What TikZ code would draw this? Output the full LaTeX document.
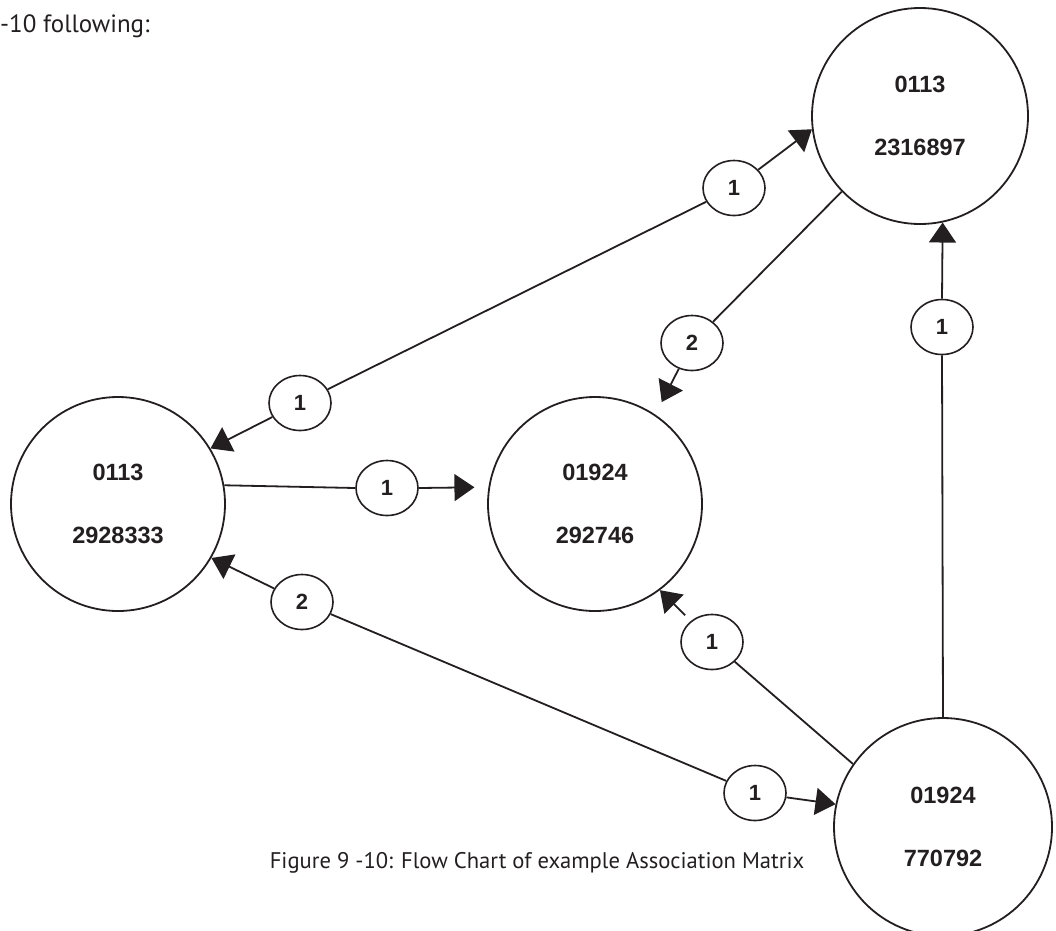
\documentclass[tikz,border=0pt]{standalone}
\usepackage{fontspec}
\setmainfont{Liberation Sans}
\newfontfamily\capfont{PT Sans}
\usetikzlibrary{arrows.meta,shapes.geometric}
\definecolor{vink}{HTML}{231F20}
\tikzset{
  state/.style={circle,draw=vink,line width=1.8pt,minimum size=#1,inner sep=0pt,align=center,
    font=\fontsize{23.5}{28}\selectfont\bfseries,text=vink},
  state/.default=214pt,
  wt/.style={ellipse,draw=vink,line width=1.6pt,minimum width=62pt,minimum height=55pt,inner sep=0pt,
    font=\fontsize{22}{26}\selectfont\bfseries,text=vink},
  arr/.style={-{Triangle[length=20pt,width=27pt]},line width=1.8pt,draw=vink},
  ln/.style={line width=1.8pt,draw=vink},
  captxt/.style={font=\capfont\fontsize{22.6}{27}\selectfont,text=vink,inner sep=0pt},
}
\begin{document}
\begin{tikzpicture}[x=1pt,y=-1pt]
\useasboundingbox (0,0) rectangle (1056,930);
% states
\node[state=216pt] (A) at (920,116) {0113\\[35pt]2316897};
\node[state] (B) at (118,504) {0113\\[35pt]2928333};
\node[state] (C) at (595,504) {01924\\[35pt]292746};
\node[state=218pt] (D) at (943,827) {01924\\[35pt]770792};
% weights
\node[wt] (L1) at (300,403) {1};
\node[wt] (L2) at (734,188) {1};
\node[wt] (L3) at (692,343) {2};
\node[wt] (L4) at (942,327) {1};
\node[wt] (L5) at (387,488) {1};
\node[wt] (L6) at (302,602) {2};
\node[wt] (L7) at (712,642) {1};
\node[wt] (L8) at (755,793) {1};
% B <-> A
\draw[arr] (L1) -- (B.31);
\draw[ln] (L1) -- (L2);
\draw[arr] (L2) -- (A.187);
% A -> C
\draw[ln] (A.224) -- (L3);
\draw[arr,shorten >=14pt] (L3) -- (C.56);
% D -> A
\draw[ln] (D.90) -- (L4.south);
\draw[arr] (L4.north) -- (A.282);
% D -> C
\draw[ln] (D.145) -- (L7);
\draw[arr,shorten <=8pt] (L7) -- (C.-53);
% B -> C
\draw[ln] (B.10) -- (L5.west);
\draw[arr,shorten >=14pt] (L5.east) -- (C.171);
% B <-> D
\draw[arr] (L6) -- (B.-30);
\draw[ln] (L6) -- (L8);
\draw[arr] (L8) -- (D.168);
% text
\node[captxt,anchor=base west,font=\capfont\fontsize{25}{30}\selectfont] (intro) at (0,32) {-10 following:};
\node[captxt,anchor=base] (caption) at (537,868) {Figure 9 -10: Flow Chart of example Association Matrix};
\end{tikzpicture}
\end{document}
